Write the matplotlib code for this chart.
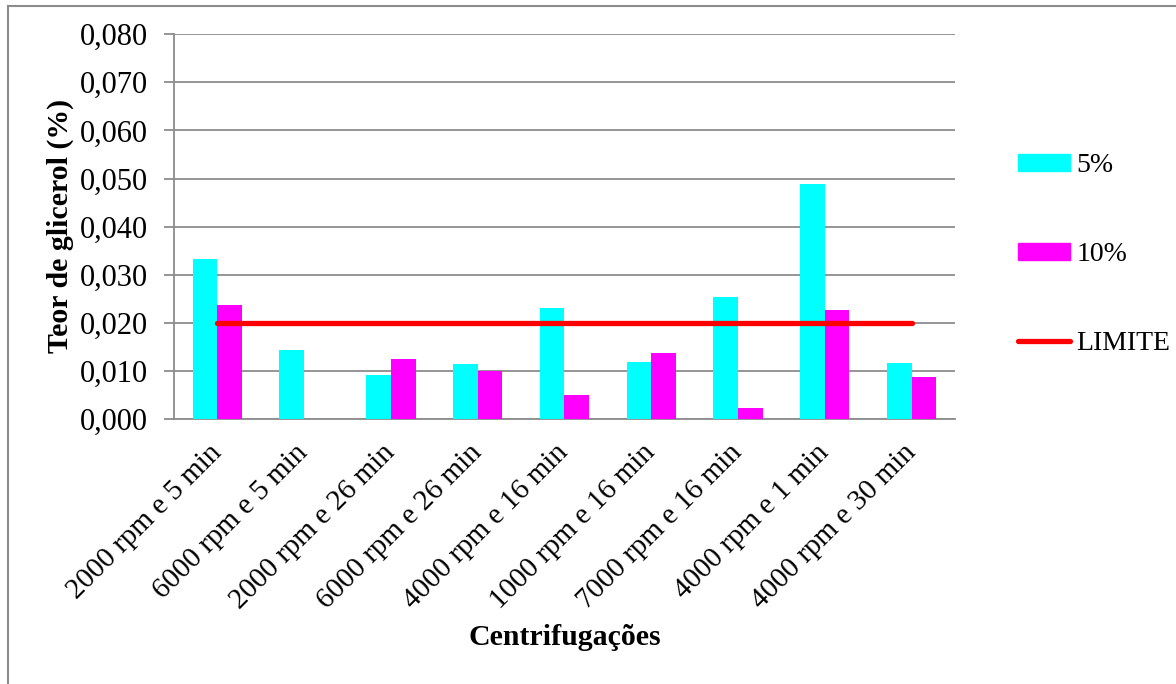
import matplotlib
matplotlib.use("Agg")
import matplotlib.pyplot as plt
from matplotlib.lines import Line2D
from matplotlib.patches import Patch
import numpy as np

categories = ["2000 rpm e 5 min", "6000 rpm e 5 min", "2000 rpm e 26 min",
              "6000 rpm e 26 min", "4000 rpm e 16 min", "1000 rpm e 16 min",
              "7000 rpm e 16 min", "4000 rpm e 1 min", "4000 rpm e 30 min"]
serie_5 = [0.0332, 0.0144, 0.0093, 0.0115, 0.0232, 0.0119, 0.0253, 0.0488, 0.0117]
serie_10 = [0.0237, 0.0, 0.0126, 0.0101, 0.0050, 0.0138, 0.0024, 0.0226, 0.0088]
limite = 0.020
y_ticks = [0.000, 0.010, 0.020, 0.030, 0.040, 0.050, 0.060, 0.070, 0.080]

plt.rcParams['font.family'] = ['Liberation Serif', 'DejaVu Serif']

fig = plt.figure(figsize=(11.76, 6.84), dpi=100)
ax = fig.add_axes([0.148, 0.387, 0.664, 0.5632])

x = np.arange(len(categories))
w = 0.285
ax.bar(x - w / 2, serie_5, width=w, color="#00FFFF", zorder=3)
ax.bar(x + w / 2, serie_10, width=w, color="#FF00FF", zorder=3)
ax.plot([x[0], x[-1]], [limite, limite], color="#FF0000", lw=3.8,
        solid_capstyle="round", zorder=4)

ax.set_xlim(-0.5, len(categories) - 0.5)
ax.set_ylim(0, 0.080)
ax.set_yticks(y_ticks)
ax.set_yticklabels([f"{v:.3f}".replace(".", ",") for v in y_ticks], fontsize=22)
ax.yaxis.grid(True, color="#8C8C8C", lw=1.3, zorder=0)
ax.tick_params(axis="y", length=7, width=1.3, color="#8C8C8C", pad=12)
ax.set_xticks(x)
ax.set_xticklabels(categories, rotation=45, ha="right", va="center",
                   rotation_mode="anchor", fontsize=21)
ax.tick_params(axis="x", length=0, pad=21)

for s in ["top", "right"]:
    ax.spines[s].set_visible(False)
for s in ["left", "bottom"]:
    ax.spines[s].set_color("#8C8C8C")
    ax.spines[s].set_linewidth(1.3)

fig.text(0.051, 0.670, "Teor de glicerol (%)", fontsize=21.5, fontweight="bold",
         rotation=90, ha="center", va="center")
fig.text(0.480, 0.068, "Centrifugações", fontsize=21.5, fontweight="bold",
         ha="center", va="center")

handles = [Patch(color="#00FFFF"), Patch(color="#FF00FF"),
           Line2D([0], [0], color="#FF0000", lw=3.8, solid_capstyle="round")]
ax.legend(handles, ["5%", "10%", "LIMITE"], loc="upper left",
          bbox_to_anchor=(0.866, 0.776), bbox_transform=fig.transFigure,
          frameon=False, fontsize=20, handlelength=1.87, handleheight=0.54,
          handletextpad=0.22, labelspacing=2.30, borderaxespad=0, borderpad=0)

# chart frame
fig.add_artist(Line2D([0.0065, 0.0065], [0.0, 0.9915], transform=fig.transFigure,
                      color="#8C8C8C", lw=1.5))
fig.add_artist(Line2D([0.0065, 1.0], [0.9915, 0.9915], transform=fig.transFigure,
                      color="#8C8C8C", lw=1.5))

fig.savefig("out.png", dpi=100, facecolor="white")
